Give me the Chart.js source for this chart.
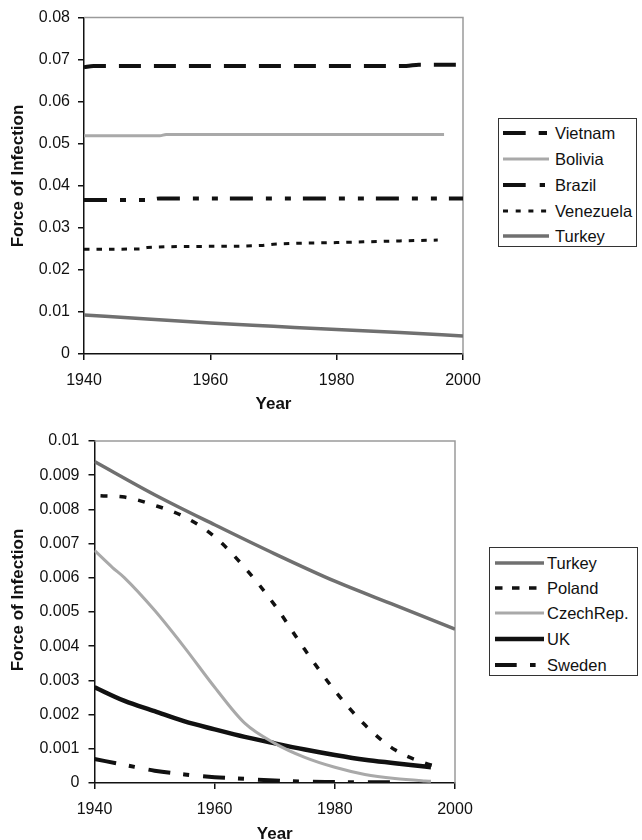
<!DOCTYPE html>
<html><head><meta charset="utf-8">
<script src="https://cdn.jsdelivr.net/npm/chart.js@4/dist/chart.umd.min.js"></script>
<style>
body{margin:0;width:642px;height:840px;overflow:hidden;background:#fff;font-family:"Liberation Sans",Arial,sans-serif;position:relative}
canvas{position:absolute;left:0}
#c1{top:0}
#c2{top:420px}
.ytitle{position:absolute;font-weight:bold;font-size:17px;white-space:nowrap;transform:translate(-50%,-50%) rotate(-90deg);color:#111}
.legend{position:absolute;border:1.5px solid #333;box-sizing:border-box;background:#fff}
.row{position:absolute;left:0;height:22px;margin-top:-11px;font-size:16.5px;color:#111;line-height:22px;white-space:nowrap}
.row svg{position:absolute;left:0;top:0}
.row span{position:absolute}
</style>
</head><body>
<canvas id="c1" width="642" height="416"></canvas>
<canvas id="c2" width="642" height="426"></canvas>
<div class="ytitle" style="left:17.5px;top:176px">Force of Infection</div>
<div class="ytitle" style="left:17.5px;top:600px">Force of Infection</div>
<div class="legend" id="lg1" style="left:498px;top:118px;width:139px;height:129px"></div>
<div class="legend" id="lg2" style="left:489px;top:547px;width:149px;height:129px"></div>
<script>
// ---------- Data: top chart ----------
const vietnamYears = [1940, 1941.5, 1991, 1993, 2000];
const vietnamVals  = [0.0682, 0.0685, 0.0685, 0.0688, 0.0688];
const boliviaYears = [1940, 1952, 1953, 1997];
const boliviaVals  = [0.0519, 0.0519, 0.0522, 0.0522];
const brazilYears  = [1940, 1950, 1952, 2000];
const brazilVals   = [0.0366, 0.0366, 0.0370, 0.0370];
const venezuelaYears = [1940, 1949, 1950, 1960, 1968, 1970, 1980, 1990, 1996];
const venezuelaVals  = [0.0249, 0.0250, 0.0253, 0.0256, 0.0258, 0.0261, 0.0265, 0.0269, 0.0271];
const turkeyTopYears = [1940, 1950, 1960, 1970, 1980, 1990, 2000];
const turkeyTopVals  = [0.0093, 0.0083, 0.0074, 0.0066, 0.0058, 0.0051, 0.0043];

// ---------- Data: bottom chart ----------
const turkeyYears = [1940, 1950, 1960, 1970, 1980, 1990, 2000];
const turkeyVals  = [0.0094, 0.00843, 0.00755, 0.0067, 0.0059, 0.0052, 0.0045];
const polandYears = [1941, 1945, 1950, 1955, 1960, 1965, 1970, 1975, 1980, 1985, 1990, 1995, 1997];
const polandVals  = [0.0084, 0.00836, 0.00812, 0.00778, 0.0072, 0.0063, 0.0052, 0.0039, 0.0027, 0.0017, 0.00097, 0.00058, 0.00048];
const czechYears  = [1940, 1943, 1945, 1950, 1955, 1960, 1965, 1970, 1975, 1980, 1985, 1990, 1995, 1996];
const czechVals   = [0.0068, 0.0063, 0.0060, 0.00505, 0.00396, 0.0028, 0.00175, 0.00116, 0.00075, 0.00046, 0.00025, 0.00013, 0.00006, 0.00005];
const ukYears     = [1940, 1945, 1950, 1955, 1960, 1965, 1970, 1975, 1980, 1985, 1990, 1995, 1996];
const ukVals      = [0.0028, 0.0024, 0.0021, 0.0018, 0.00157, 0.00135, 0.00116, 0.00098, 0.00082, 0.00068, 0.00058, 0.00048, 0.00046];
const swedenYears = [1940, 1945, 1950, 1955, 1960, 1965, 1970, 1975, 1980, 1985, 1990];
const swedenVals  = [0.0007, 0.00053, 0.00036, 0.00025, 0.00017, 0.00012, 0.00007, 0.00004, 0.00003, 0.00002, 0.00002];

const xTicks = [1940, 1960, 1980, 2000];
const FONT = '"Liberation Sans", Arial, sans-serif';
const BLACK = '#111', DARKGRAY = '#707070', LIGHTGRAY = '#a9a9a9';

function pts(xs, ys){ return xs.map((x,i)=>({x, y: ys[i]})); }

const topSeries = [
  {label:'Vietnam', xs:vietnamYears, ys:vietnamVals, color:BLACK, width:4, dash:[22,13], legendDash:'22.7 13 8.3 100'},
  {label:'Bolivia', xs:boliviaYears, ys:boliviaVals, color:LIGHTGRAY, width:3, dash:[], legendDash:''},
  {label:'Brazil', xs:brazilYears, ys:brazilVals, color:BLACK, width:4, dash:[23,13,6,13,6,12], legendDash:'22.7 14 5.3 100'},
  {label:'Venezuela', xs:venezuelaYears, ys:venezuelaVals, color:BLACK, width:3, dash:[5.5,7], legendDash:'5 7.7'},
  {label:'Turkey', xs:turkeyTopYears, ys:turkeyTopVals, color:DARKGRAY, width:3.5, dash:[], legendDash:''}
];
const bottomSeries = [
  {label:'Turkey', xs:turkeyYears, ys:turkeyVals, color:DARKGRAY, width:3.5, dash:[], legendDash:''},
  {label:'Poland', xs:polandYears, ys:polandVals, color:BLACK, width:3.5, dash:[7,12], legendDash:'7.5 9.5'},
  {label:'CzechRep.', xs:czechYears, ys:czechVals, color:LIGHTGRAY, width:3, dash:[], legendDash:''},
  {label:'UK', xs:ukYears, ys:ukVals, color:BLACK, width:4.5, dash:[], legendDash:''},
  {label:'Sweden', xs:swedenYears, ys:swedenVals, color:BLACK, width:4, dash:[22,13,6,14], legendDash:'21.7 13.3 5.6 100'}
];

const frame = {
  id:'frame',
  beforeDatasetsDraw(chart){
    const {ctx, chartArea:a} = chart;
    ctx.save();
    ctx.strokeStyle = '#9a9a9a'; ctx.lineWidth = 1.5;
    ctx.beginPath();
    ctx.moveTo(a.left, a.top); ctx.lineTo(a.right, a.top); ctx.lineTo(a.right, a.bottom);
    ctx.stroke();
    ctx.restore();
  }
};

function makeChart(id, series, cfg){
  return new Chart(document.getElementById(id), {
    type:'line',
    data:{ datasets: series.map(s=>({
      label:s.label, data:pts(s.xs, s.ys), borderColor:s.color, backgroundColor:s.color,
      borderWidth:s.width, borderDash:s.dash, pointRadius:0, fill:false,
      tension:0.4, cubicInterpolationMode:'monotone', borderCapStyle:'butt'
    }))},
    options:{
      responsive:false, animation:false, devicePixelRatio:1,
      layout:{padding:cfg.padding},
      plugins:{legend:{display:false}, tooltip:{enabled:false}},
      scales:{
        x:{type:'linear', min:1940, max:2000,
          afterBuildTicks: s => { s.ticks = xTicks.map(v=>({value:v})); },
          afterFit: s => { s.height = cfg.xHeight; },
          grid:{drawOnChartArea:false, drawTicks:true, tickLength:6, color:BLACK, lineWidth:1.5},
          border:{display:true, color:BLACK, width:1.5},
          ticks:{padding:11, color:BLACK, font:{family:FONT, size:16}, callback:v=>String(v), maxRotation:0},
          title:{display:true, text:'Year', color:BLACK, font:{family:FONT, size:17, weight:'bold'}, padding:{top:0,bottom:1}}
        },
        y:{min:0, max:cfg.yMax,
          ticks:{stepSize:cfg.yStep, padding:cfg.yPad, color:BLACK, font:{family:FONT, size:16},
            callback:v=> v===0 ? '0' : String(+v.toFixed(4))},
          afterFit: s => { s.width = cfg.yWidth; },
          grid:{drawOnChartArea:false, drawTicks:true, tickLength:6, color:BLACK, lineWidth:1.5},
          border:{display:true, color:BLACK, width:1.5}
        }
      }
    },
    plugins:[frame]
  });
}

makeChart('c1', topSeries, {padding:{left:0, top:13, right:179, bottom:0}, xHeight:62, yWidth:84, yMax:0.08, yStep:0.01, yPad:8});
makeChart('c2', bottomSeries, {padding:{left:0, top:21, right:187, bottom:0}, xHeight:63, yWidth:94.5, yMax:0.01, yStep:0.001, yPad:9});

function makeLegend(id, series, rows, lineX0, lineX1, textX){
  const box = document.getElementById(id);
  series.forEach((s,i)=>{
    const r = document.createElement('div');
    r.className = 'row';
    r.style.top = rows[i] + 'px';
    r.style.width = '100%';
    const svgNS = 'http://www.w3.org/2000/svg';
    const svg = document.createElementNS(svgNS,'svg');
    svg.setAttribute('width', lineX1 + 2); svg.setAttribute('height', 22);
    const ln = document.createElementNS(svgNS,'line');
    ln.setAttribute('x1', lineX0); ln.setAttribute('x2', lineX1);
    ln.setAttribute('y1', 11); ln.setAttribute('y2', 11);
    ln.setAttribute('stroke', s.color); ln.setAttribute('stroke-width', s.width);
    if (s.legendDash) ln.setAttribute('stroke-dasharray', s.legendDash);
    svg.appendChild(ln);
    r.appendChild(svg);
    const sp = document.createElement('span');
    sp.textContent = s.label; sp.style.left = textX + 'px';
    r.appendChild(sp);
    box.appendChild(r);
  });
}
makeLegend('lg1', topSeries, [14, 40, 65.5, 91.5, 117], 4, 50, 56);
makeLegend('lg2', bottomSeries, [15, 40, 65, 91, 117], 5, 54, 57);
</script>
</body></html>
